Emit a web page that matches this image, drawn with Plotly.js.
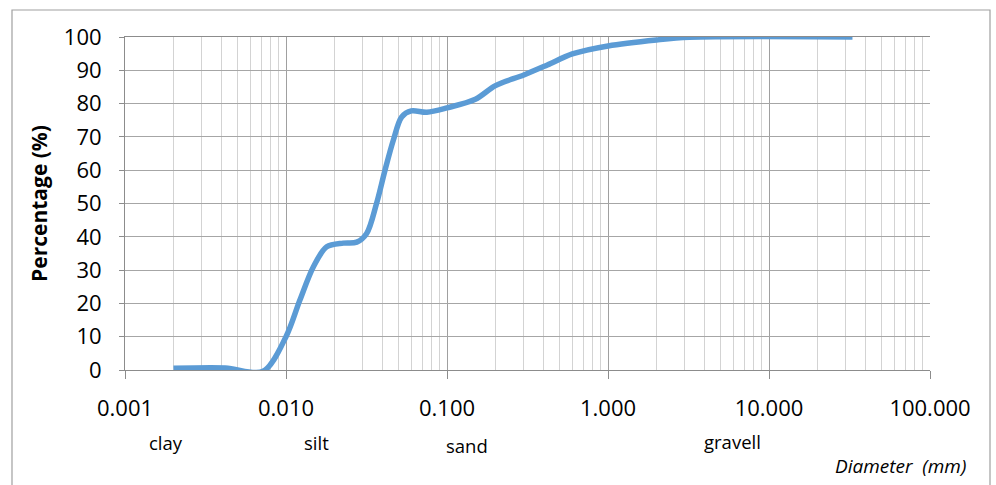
<!DOCTYPE html>
<html>
<head>
<meta charset="utf-8">
<script src="https://cdn.plot.ly/plotly-3.0.1.min.js"></script>
<style>
html,body{margin:0;padding:0;background:#fff;}
#chart{width:996px;height:485px;}
</style>
</head>
<body>
<div id="chart"></div>
<script>
// Grain-size distribution
const diameterMm = [0.002, 0.0042, 0.0072, 0.01, 0.0122, 0.0148, 0.0179, 0.0227, 0.0275, 0.0317, 0.0365, 0.0412, 0.0464, 0.0523, 0.06, 0.075, 0.1, 0.15, 0.2, 0.3, 0.42, 0.6, 1, 2, 3.2, 33];
const percentPassing = [0.5, 0.6, -0.4, 10, 21, 31, 37, 38.1, 38.4, 41, 50, 60, 69, 76, 77.8, 77.4, 78.7, 81.3, 85.4, 88.6, 91.6, 94.9, 97.3, 99.1, 99.9, 100];

const xTickVals = [0.001, 0.01, 0.1, 1, 10, 100];
const xTickText = ["0.001", "0.010", "0.100", "1.000", "10.000", "100.000"];
const yTickVals = [0, 10, 20, 30, 40, 50, 60, 70, 80, 90, 100];

const soilClasses = ["clay", "silt", "sand", "gravell"];

// plot area in pixels: x 125..930, y 37..370
const L = 125, R = 930, T = 37, B = 370;
const px = v => (v - L) / (R - L);
const py = v => (B - v) / (B - T);

const font = "'Open Sans', 'Liberation Sans', sans-serif";

const soilClassPx = [166, 316, 467, 732];
const soilClassPy = [442, 442, 445, 441];

const annotations = soilClasses.map((t, i) => ({
  text: t, xref: 'paper', yref: 'paper',
  x: px(soilClassPx[i]), y: py(soilClassPy[i]),
  xanchor: 'center', yanchor: 'middle', showarrow: false,
  font: {family: font, size: 18.5, color: '#000'}
}));
annotations.push({
  text: 'Diameter  (mm)', xref: 'paper', yref: 'paper',
  x: px(968), y: py(466), xanchor: 'right', yanchor: 'middle', showarrow: false,
  font: {family: font, size: 19, color: '#000', style: 'italic'}
});

const data = [{
  x: diameterMm, y: percentPassing, type: 'scatter', mode: 'lines',
  line: {color: '#5b9bd5', width: 5.5, shape: 'spline', smoothing: 0.9},
  hoverinfo: 'x+y'
}];

const layout = {
  width: 996, height: 485,
  margin: {l: L, r: 996 - R, t: T, b: 485 - B},
  paper_bgcolor: '#fff', plot_bgcolor: '#fff',
  showlegend: false,
  font: {family: font, color: '#000'},
  xaxis: {
    type: 'log', range: [-3, 2],
    tickvals: xTickVals, ticktext: xTickText,
    tickfont: {family: font, size: 22, color: '#000'},
    showgrid: true, gridcolor: '#a0a0a0', gridwidth: 1,
    minor: {dtick: 'D1', showgrid: true, gridcolor: '#d3d3d3', gridwidth: 1, ticks: ''},
    ticks: 'outside', ticklen: 8, tickcolor: '#8c8c8c',
    showline: true, linecolor: '#8c8c8c', linewidth: 1,
    mirror: true, zeroline: false, fixedrange: true,
    ticklabelstandoff: 11
  },
  yaxis: {
    range: [0, 100], tickvals: yTickVals,
    tickfont: {family: font, size: 22, color: '#000'},
    showgrid: true, gridcolor: '#a6a6a6', gridwidth: 1,
    ticks: 'outside', ticklen: 5, tickcolor: '#8c8c8c',
    showline: true, linecolor: '#8c8c8c', linewidth: 1,
    zeroline: false, fixedrange: true,
    ticklabelstandoff: 13,
    title: {text: '<b>Percentage (%)</b>', font: {family: font, size: 21, color: '#000'}, standoff: 10}
  },
  annotations: annotations,
  shapes: [{
    type: 'rect', xref: 'paper', yref: 'paper',
    x0: px(12), x1: px(990), y0: py(492), y1: py(10),
    line: {color: '#a0a0a0', width: 1.2}, fillcolor: 'rgba(0,0,0,0)', layer: 'below'
  }]
};

Plotly.newPlot('chart', data, layout, {staticPlot: true, displayModeBar: false});
</script>
</body>
</html>
